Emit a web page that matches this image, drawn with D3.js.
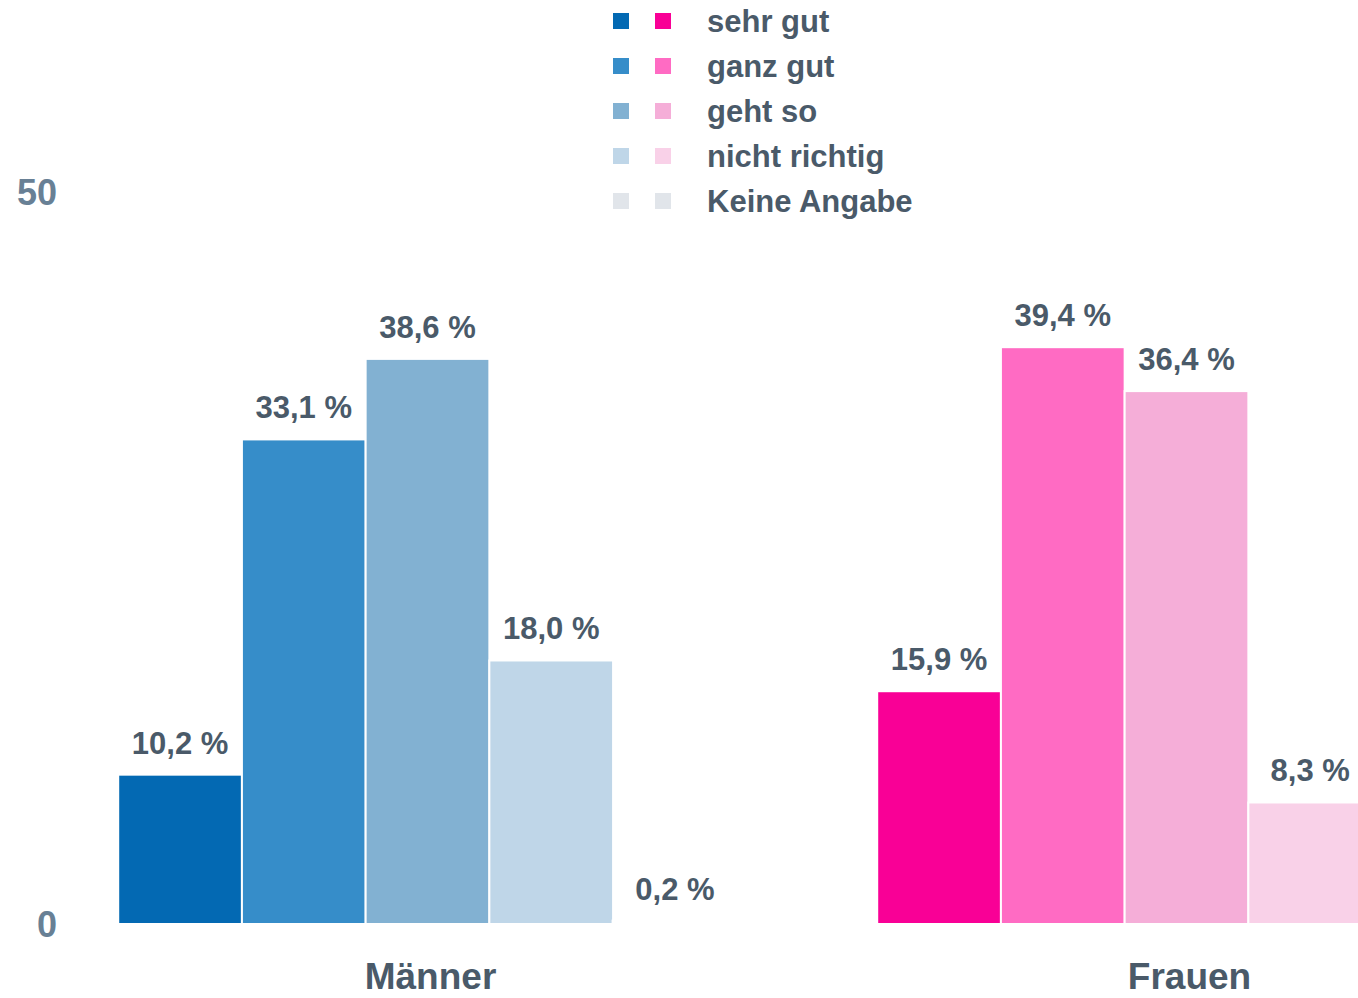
<!DOCTYPE html>
<html>
<head>
<meta charset="utf-8">
<script src="https://cdn.jsdelivr.net/npm/d3@7"></script>
<style>
  body { margin: 0; background: #fff; }
  svg { display: block; font-family: "Liberation Sans", Arial, sans-serif; font-weight: bold; }
</style>
</head>
<body>
<div id="graf"></div>
<script>
// daten
const gruppen = ["Männer", "Frauen"]
const antworten = ["sehr gut", "ganz gut", "geht so", "nicht richtig", "Keine Angabe"]
const maenner = [10.2, 33.1, 38.6, 18.0, 0.2]
const frauen = [15.9, 39.4, 36.4, 8.3, 0]
const farbenMaenner = ["#0369b3", "#368dc9", "#82b1d2", "#bfd6e8", "#e1e5ea"]
const farbenFrauen = ["#f90096", "#ff6bc3", "#f5aed8", "#f9d1e8", "#e1e5ea"]
const yTicks = [0, 50]

const anchoTotal = 1358
const altoTotal = 998
const textColor = "#4a5a69"

const svg = d3.select("#graf")
  .append("svg")
  .attr("width", anchoTotal)
  .attr("height", altoTotal)

const x0 = d3.scaleBand().domain(gruppen).range([48, 1566]).paddingInner(0.185).paddingOuter(0.0925)
const x1 = d3.scaleBand().domain(antworten).range([0, x0.bandwidth()])
const y = d3.scaleLinear().domain([0, 50]).range([924, 192])

const data = gruppen.map((g, i) => ({
  gruppe: g,
  werte: antworten.map((a, j) => ({
    antwort: a,
    value: i == 0 ? maenner[j] : frauen[j],
    color: i == 0 ? farbenMaenner[j] : farbenFrauen[j]
  }))
}))

// y ticks
svg.append("g")
  .selectAll("text")
  .data(yTicks)
  .join("text")
  .attr("x", 57)
  .attr("y", (d) => y(d))
  .attr("dy", "0.35em")
  .attr("text-anchor", "end")
  .attr("fill", "#688095")
  .attr("font-size", 36)
  .text((d) => d)

const grupo = svg.append("g")
  .selectAll("g")
  .data(data)
  .join("g")
  .attr("transform", (d) => `translate(${x0(d.gruppe)}, 0)`)

grupo.selectAll("rect")
  .data((d) => d.werte)
  .join("rect")
  .attr("x", (d) => x1(d.antwort))
  .attr("y", (d) => y(d.value))
  .attr("width", x1.bandwidth())
  .attr("height", (d) => y(0) - y(d.value))
  .attr("fill", (d) => d.color)
  .attr("stroke", "#fff")
  .attr("stroke-width", (d) => d.value < 1 ? 3 : 2)

grupo.selectAll("text.val")
  .data((d) => d.werte.filter((w) => w.value > 0))
  .join("text")
  .attr("class", "val")
  .attr("x", (d) => x1(d.antwort) + x1.bandwidth() / 2)
  .attr("y", (d) => y(d.value) - 21)
  .attr("text-anchor", "middle")
  .attr("fill", textColor)
  .attr("font-size", 31)
  .text((d) => d.value.toFixed(1).replace(".", ",") + " %")

// gruppen
svg.append("g")
  .selectAll("text")
  .data(gruppen)
  .join("text")
  .attr("x", (d) => x0(d) + x0.bandwidth() / 2 + 3)
  .attr("y", 989)
  .attr("text-anchor", "middle")
  .attr("fill", textColor)
  .attr("font-size", 37)
  .text((d) => d)

// legende
const legend = svg.append("g").attr("transform", "translate(613, 13)")
const fila = legend.selectAll("g")
  .data(antworten)
  .join("g")
  .attr("transform", (d, i) => `translate(0, ${i * 45})`)

fila.append("rect")
  .attr("width", 16).attr("height", 16)
  .attr("fill", (d, i) => farbenMaenner[i])
fila.append("rect")
  .attr("x", 42)
  .attr("width", 16).attr("height", 16)
  .attr("fill", (d, i) => farbenFrauen[i])
fila.append("text")
  .attr("x", 94)
  .attr("y", 19)
  .attr("fill", textColor)
  .attr("font-size", 31)
  .text((d) => d)
</script>
</body>
</html>
